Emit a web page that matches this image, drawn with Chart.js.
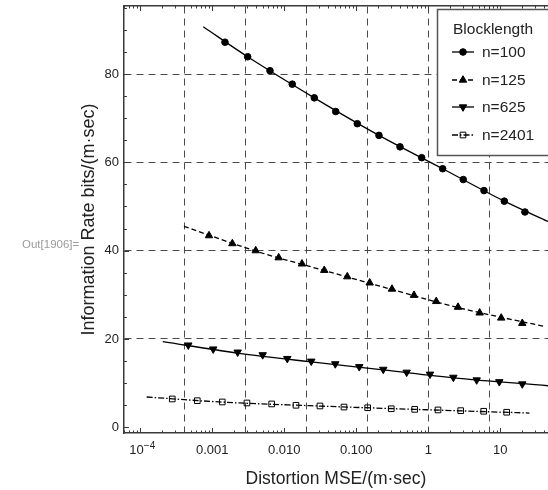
<!DOCTYPE html>
<html><head><meta charset="utf-8">
<script src="https://cdn.jsdelivr.net/npm/chart.js@4.4.1/dist/chart.umd.min.js"></script>
<style>
html,body{margin:0;padding:0;background:#fff;overflow:hidden}
#wrap{position:relative;width:548px;height:490px}
#out{position:absolute;left:22px;top:238px;font:11.5px "Liberation Sans",Arial,sans-serif;color:#9a9a9a;white-space:nowrap}
</style></head><body>
<div id="wrap"><canvas id="c" width="548" height="490"></canvas><div id="out">Out[1906]=</div></div>
<script>
// ---- data ----
const seriesNames = ['n=100', 'n=125', 'n=625', 'n=2401'];
const legendTitle = 'Blocklength';

const n100X = [1.50e-3, 3.10e-3, 6.33e-3, 0.0129, 0.0261, 0.0518, 0.1033, 0.2066, 0.4045, 0.810, 1.585, 3.06, 5.94, 11.37, 22.0];
const n100Y = [87.2, 83.9, 80.75, 77.7, 74.6, 71.5, 68.75, 66.1, 63.5, 61.05, 58.55, 56.1, 53.6, 51.2, 48.75];
const n100CurveX = [7.5e-4, 3.10e-3, 0.0261, 0.2066, 1.585, 11.37, 46];
const n100CurveY = [90.7, 83.9, 74.6, 66.1, 58.55, 51.2, 46.6];

const n125X = [9.00e-4, 1.90e-3, 4.01e-3, 8.36e-3, 0.01762, 0.0359, 0.0750, 0.1535, 0.313, 0.633, 1.29, 2.59, 5.17, 10.3, 20.2];
const n125Y = [43.4, 41.6, 40.0, 38.4, 37.0, 35.55, 34.1, 32.7, 31.3, 29.9, 28.5, 27.2, 25.9, 24.75, 23.55];
const n125CurveX = [4.04e-4, 4.01e-3, 0.0359, 0.313, 2.59, 39.2];
const n125CurveY = [45.5, 39.9, 35.5, 31.2, 27.1, 22.9];

const n625X = [4.64e-4, 1.03e-3, 2.25e-3, 5.01e-3, 0.01101, 0.0237, 0.0511, 0.110, 0.237, 0.501, 1.056, 2.23, 4.70, 9.69, 20.2];
const n625Y = [18.6, 17.7, 17.0, 16.4, 15.55, 14.95, 14.35, 13.7, 13.1, 12.45, 12.0, 11.3, 10.7, 10.3, 9.8];
const n625CurveX = [2.05e-4, 2.25e-3, 0.0237, 0.237, 2.23, 46];
const n625CurveY = [19.4, 16.8, 14.8, 13.0, 11.2, 9.4];

const n2401X = [2.78e-4, 6.19e-4, 1.377e-3, 3.03e-3, 6.68e-3, 0.01454, 0.0313, 0.0675, 0.1439, 0.306, 0.647, 1.364, 2.82, 5.88, 12.27];
const n2401Y = [6.41, 6.02, 5.73, 5.50, 5.28, 4.98, 4.82, 4.58, 4.42, 4.19, 4.05, 3.92, 3.76, 3.62, 3.40];
const n2401CurveX = [1.227e-4, 1.377e-3, 0.0313, 0.647, 25.4];
const n2401CurveY = [6.85, 5.7, 4.8, 4.05, 3.22];

const xTickValues = [1e-4, 1e-3, 1e-2, 1e-1, 1, 10];
const xTickLabels = ['10^\u22124', '0.001', '0.010', '0.100', '1', '10'];
const xGridValues = [0.000416493, 0.00291545, 0.0204082, 0.142857, 1, 7];
const yTickValues = [0, 20, 40, 60, 80];
const yTickLabels = ['0', '20', '40', '60', '80'];
const xTitle = 'Distortion MSE/(m\u00B7sec)';
const yTitle = 'Information Rate bits/(m\u00B7sec)';

// ---- helpers ----
const pts = (xs, ys) => xs.map((x, i) => ({x: x, y: ys[i]}));
const FONT = '"Liberation Sans", Arial, Helvetica, sans-serif';
const TICK_SIZE = 13;
const styles = [
  {pointStyle: 'circle', rotation: 0, radius: 3.3, fill: '#000', dash: []},
  {pointStyle: 'triangle', rotation: 0, radius: 4.3, fill: '#000', dash: [5, 3]},
  {pointStyle: 'triangle', rotation: 180, radius: 4.3, fill: '#000', dash: []},
  {pointStyle: 'rect', rotation: 0, radius: 4.0, fill: 'rgba(0,0,0,0)', dash: [6, 2, 1.5, 2]}
];
const curves = [[n100CurveX, n100CurveY], [n125CurveX, n125CurveY], [n625CurveX, n625CurveY], [n2401CurveX, n2401CurveY]];
const marks = [[n100X, n100Y], [n125X, n125Y], [n625X, n625Y], [n2401X, n2401Y]];

const datasets = [];
curves.forEach((c, i) => datasets.push({
  label: seriesNames[i] + ' curve', data: pts(c[0], c[1]), showLine: true,
  borderColor: '#000', borderWidth: 1.3, borderDash: styles[i].dash,
  pointRadius: 0, cubicInterpolationMode: 'monotone', fill: false, order: 2
}));
marks.forEach((m, i) => datasets.push({
  label: seriesNames[i], data: pts(m[0], m[1]), showLine: false,
  pointStyle: styles[i].pointStyle, rotation: styles[i].rotation,
  pointRadius: styles[i].radius, pointBackgroundColor: styles[i].fill,
  pointBorderColor: '#000', pointBorderWidth: 1, order: 1
}));

const frameColor = '#3a3a3a';
const gridColor = '#4a4a4a';
const gridDash = [7, 5];
const LABEL_PAD = 10;

const ticksPlugin = {
  id: 'innerTicks',
  afterDatasetsDraw(chart) {
    const {ctx, chartArea: ca, scales} = chart;
    const xs = scales.x, ys = scales.y;
    ctx.save();
    ctx.strokeStyle = frameColor; ctx.lineWidth = 1;
    ctx.beginPath();
    for (let e = -5; e <= 2; e++) {
      for (let m = 1; m <= 9; m++) {
        const v = m * Math.pow(10, e);
        if (v < xs.min || v > xs.max) continue;
        const px = Math.round(xs.getPixelForValue(v)) + 0.5;
        const len = m === 1 ? 5 : 2.5;
        ctx.moveTo(px, ca.bottom); ctx.lineTo(px, ca.bottom - len);
        ctx.moveTo(px, ca.top); ctx.lineTo(px, ca.top + len);
      }
    }
    for (let v = 0; v <= ys.max; v += 5) {
      const py = Math.round(ys.getPixelForValue(v)) + 0.5;
      const len = v % 20 === 0 ? 5 : 3;
      ctx.moveTo(ca.left, py); ctx.lineTo(ca.left + len, py);
    }
    ctx.stroke();
    // power-of-ten labels with a superscript exponent
    ctx.fillStyle = '#222';
    ctx.textBaseline = 'middle';
    xTickValues.forEach((v, i) => {
      const lab = xTickLabels[i];
      if (lab.indexOf('^') < 0) return;
      const [base, exp] = lab.split('^');
      ctx.font = TICK_SIZE + 'px ' + FONT;
      const bw = ctx.measureText(base).width;
      ctx.font = '10px ' + FONT;
      const ew = ctx.measureText(exp).width;
      const px = xs.getPixelForValue(v);
      const x0 = px - (bw + ew) / 2 + 2;
      const y = ca.bottom + LABEL_PAD + TICK_SIZE * 0.6;
      ctx.textAlign = 'left';
      ctx.font = TICK_SIZE + 'px ' + FONT;
      ctx.fillText(base, x0, y);
      ctx.font = '10px ' + FONT;
      ctx.fillText(exp, x0 + bw, y - 5);
    });
    ctx.restore();
  }
};

function drawMarker(ctx, st, x, y) {
  ctx.save();
  ctx.fillStyle = st.fill; ctx.strokeStyle = '#000'; ctx.lineWidth = 1;
  ctx.beginPath();
  const r = st.radius;
  if (st.pointStyle === 'circle') {
    ctx.arc(x, y, r, 0, Math.PI * 2);
  } else if (st.pointStyle === 'triangle') {
    const s = st.rotation ? -1 : 1;
    ctx.moveTo(x, y - s * r);
    ctx.lineTo(x + r * Math.sin(Math.PI / 3), y + s * r / 2);
    ctx.lineTo(x - r * Math.sin(Math.PI / 3), y + s * r / 2);
    ctx.closePath();
  } else {
    const h = r * Math.SQRT1_2;
    ctx.rect(x - h, y - h, 2 * h, 2 * h);
  }
  ctx.fill(); ctx.stroke();
  ctx.restore();
}

const legendPlugin = {
  id: 'legendBox',
  afterDraw(chart) {
    const ctx = chart.ctx;
    const bx = 437, by = 9, bw = 130, bh = 146;
    ctx.save();
    ctx.fillStyle = '#fff';
    ctx.fillRect(bx, by, bw, bh);
    ctx.strokeStyle = '#555'; ctx.lineWidth = 1.5;
    ctx.strokeRect(bx + 0.5, by + 0.5, bw, bh);
    ctx.fillStyle = '#222';
    ctx.font = '15.5px ' + FONT;
    ctx.textBaseline = 'middle'; ctx.textAlign = 'left';
    ctx.fillText(legendTitle, 453, 30);
    const rowsY = [52, 80, 107, 135];
    seriesNames.forEach((name, i) => {
      const y = rowsY[i];
      ctx.save();
      ctx.strokeStyle = '#000'; ctx.lineWidth = 1.3;
      ctx.setLineDash(styles[i].dash);
      ctx.beginPath(); ctx.moveTo(452, y); ctx.lineTo(474, y); ctx.stroke();
      ctx.restore();
      drawMarker(ctx, styles[i], 463, y);
      ctx.fillStyle = '#222';
      ctx.fillText(name, 482, y + 1);
    });
    ctx.restore();
  }
};

new Chart(document.getElementById('c'), {
  type: 'scatter',
  data: {datasets: datasets},
  options: {
    responsive: false, animation: false, devicePixelRatio: 1,
    layout: {padding: 0, autoPadding: false},
    plugins: {legend: {display: false}, tooltip: {enabled: false}},
    scales: {
      x: {
        type: 'logarithmic', position: 'bottom', min: 5.94e-5, max: 46,
        afterBuildTicks: s => { s.ticks = xTickValues.map(v => ({value: v})); },
        afterFit: s => { s.height = 57; s.paddingLeft = 0; s.paddingRight = 0; },
        ticks: {
          autoSkip: false, maxRotation: 0, padding: LABEL_PAD, color: '#222',
          font: {family: FONT, size: TICK_SIZE},
          callback: (v, i) => (xTickLabels[i].indexOf('^') >= 0 ? '' : xTickLabels[i])
        },
        grid: {display: false, drawTicks: false},
        border: {display: true, color: frameColor, width: 1.5},
        title: {display: true, text: xTitle, color: '#222', font: {family: FONT, size: 17.5}, padding: {top: 6, bottom: 0}}
      },
      x2: {
        type: 'logarithmic', position: 'top', min: 5.94e-5, max: 46,
        afterBuildTicks: s => { s.ticks = xGridValues.map(v => ({value: v})); },
        afterFit: s => { s.height = 6; s.paddingLeft = 0; s.paddingRight = 0; },
        ticks: {display: false},
        grid: {display: true, drawTicks: false, color: gridColor, lineWidth: 1},
        border: {display: true, color: frameColor, width: 1.5, dash: gridDash}
      },
      y: {
        type: 'linear', position: 'left', min: -1.3, max: 95.4,
        afterBuildTicks: s => { s.ticks = yTickValues.map(v => ({value: v})); },
        afterFit: s => { s.width = 124; s.paddingTop = 0; s.paddingBottom = 0; },
        ticks: {
          padding: 5, color: '#222', font: {family: FONT, size: TICK_SIZE},
          callback: (v, i) => yTickLabels[i]
        },
        grid: {
          display: true, drawTicks: false, lineWidth: 1,
          color: c => (c.tick && c.tick.value === 0) ? 'rgba(0,0,0,0)' : gridColor
        },
        border: {display: true, color: frameColor, width: 1.5, dash: gridDash},
        title: {display: true, text: yTitle, color: '#222', font: {family: FONT, size: 18}, padding: {top: 78, bottom: 0}}
      }
    }
  },
  plugins: [ticksPlugin, legendPlugin]
});
</script>
</body></html>
